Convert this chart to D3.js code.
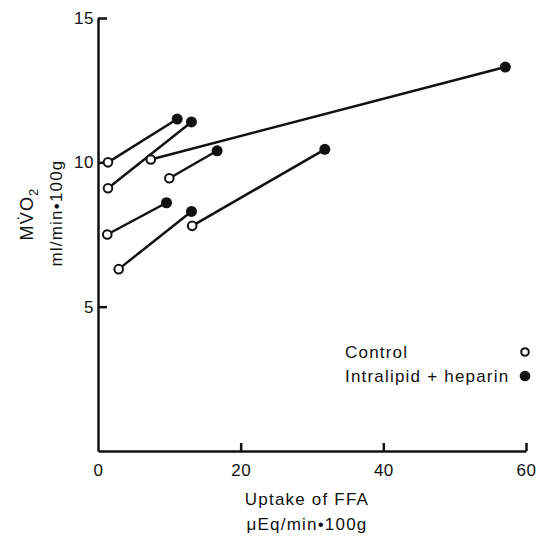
<!DOCTYPE html>
<html lang="en">
<head>
<meta charset="utf-8">
<title>MVO2 vs FFA uptake</title>
<script src="https://cdn.jsdelivr.net/npm/d3@7"></script>
<style>
  body { margin: 0; background: #fff; }
  text { font-family: "Liberation Sans", Arial, sans-serif; fill: #111; letter-spacing: 1.2px; }
  .axis path, .axis line { stroke: #111; stroke-width: 2.5; }
  .axis text { font-size: 17px; letter-spacing: 0.5px; }
  .pair { stroke: #111; stroke-width: 2.5; fill: none; }
</style>
</head>
<body>
<script>
// Control (open) and Intralipid + heparin (filled) per experiment
var controlX = [1.4, 1.4, 7.4, 10.0, 1.3, 2.9, 13.2];
var controlY = [10.0, 9.1, 10.1, 9.45, 7.5, 6.3, 7.8];
var lipidX   = [11.1, 13.1, 57.1, 16.7, 9.6, 13.1, 31.8];
var lipidY   = [11.5, 11.4, 13.3, 10.4, 8.6, 8.3, 10.45];

var xTicks = [0, 20, 40, 60];
var yTicks = [5, 10, 15];
var legendLabels = ["Control", "Intralipid + heparin"];

var W = 545, H = 537;
var margin = {left: 98, right: 19, top: 18, bottom: 86};

var svg = d3.select("body").append("svg")
  .attr("width", W)
  .attr("height", H);

var x = d3.scaleLinear().domain([0, 60]).range([margin.left, W - margin.right]);
var y = d3.scaleLinear().domain([0, 15]).range([H - margin.bottom, margin.top]);

// axes, ticks point inwards
var xAxis = d3.axisBottom(x).tickValues(xTicks).tickSizeInner(-8).tickSizeOuter(0).tickPadding(13);
var yAxis = d3.axisLeft(y).tickValues(yTicks).tickSizeInner(-9).tickSizeOuter(0).tickPadding(4);

var gx = svg.append("g").attr("class", "axis")
  .attr("transform", "translate(0," + y(0) + ")")
  .call(xAxis);
gx.selectAll(".tick").filter(function(d) { return d === 0; }).select("line").remove();

svg.append("g").attr("class", "axis")
  .attr("transform", "translate(" + x(0) + ",0)")
  .call(yAxis);

// connecting lines
var pairs = controlX.map(function(d, i) {
  return {cx: d, cy: controlY[i], lx: lipidX[i], ly: lipidY[i]};
});

svg.selectAll(".pair").data(pairs).enter().append("line")
  .attr("class", "pair")
  .attr("x1", function(d) { return x(d.cx); })
  .attr("y1", function(d) { return y(d.cy); })
  .attr("x2", function(d) { return x(d.lx); })
  .attr("y2", function(d) { return y(d.ly); });

svg.selectAll(".ctrl").data(pairs).enter().append("circle")
  .attr("class", "ctrl")
  .attr("cx", function(d) { return x(d.cx); })
  .attr("cy", function(d) { return y(d.cy); })
  .attr("r", 4.3)
  .attr("fill", "#fff").attr("stroke", "#111").attr("stroke-width", 2);

svg.selectAll(".lip").data(pairs).enter().append("circle")
  .attr("class", "lip")
  .attr("cx", function(d) { return x(d.lx); })
  .attr("cy", function(d) { return y(d.ly); })
  .attr("r", 5.5)
  .attr("fill", "#111");

// legend
var legend = svg.append("g");
legendLabels.forEach(function(lab, i) {
  var ly = 352 + i * 24;
  legend.append("text")
    .attr("x", 345).attr("y", ly).attr("dy", "0.35em")
    .style("font-size", "17px")
    .text(lab);
  var c = legend.append("circle").attr("cx", 525).attr("cy", ly);
  if (i === 0) c.attr("r", 3.8).attr("fill", "#fff").attr("stroke", "#111").attr("stroke-width", 2);
  else c.attr("r", 5.3).attr("fill", "#111");
});

// axis titles
svg.append("text")
  .attr("x", 307).attr("y", 505)
  .attr("text-anchor", "middle")
  .style("font-size", "17px")
  .text("Uptake of FFA");

svg.append("text")
  .attr("x", 307).attr("y", 530)
  .attr("text-anchor", "middle")
  .style("font-size", "17px")
  .text("\u03bcEq/min\u2022100g");

var yl = svg.append("text")
  .attr("transform", "translate(33,214) rotate(-90)")
  .attr("text-anchor", "middle")
  .style("font-size", "18px");
yl.append("tspan").text("MV\u0307O");
yl.append("tspan").attr("dy", 5).style("font-size", "13px").text("2");

svg.append("text")
  .attr("transform", "translate(62,213) rotate(-90)")
  .attr("text-anchor", "middle")
  .style("font-size", "17px")
  .text("ml/min\u2022100g");
</script>
</body>
</html>
